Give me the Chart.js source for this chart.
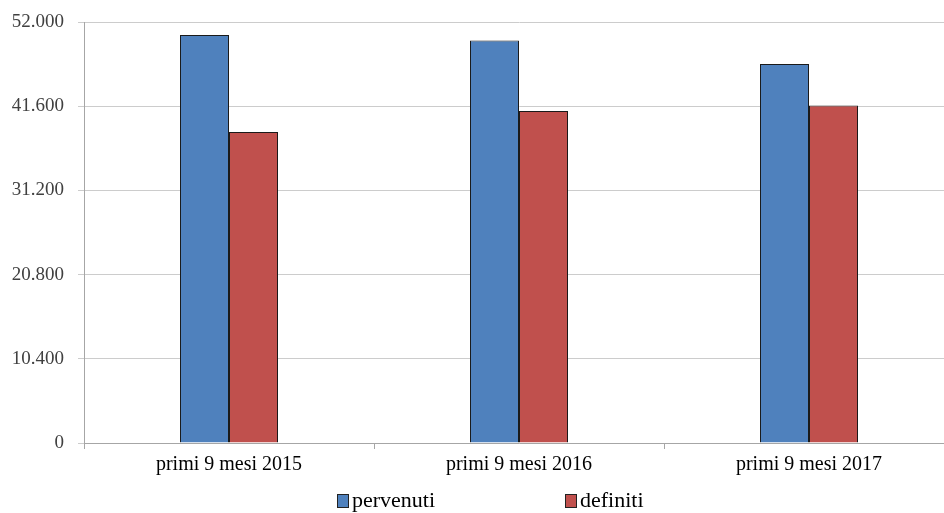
<!DOCTYPE html>
<html>
<head>
<meta charset="utf-8">
<script src="https://cdn.jsdelivr.net/npm/chart.js@4/dist/chart.umd.min.js"></script>
<style>
html,body{margin:0;padding:0;background:#fff;overflow:hidden;}
#wrap{position:relative;width:944px;height:513px;overflow:hidden;}
canvas{display:block;}
</style>
</head>
<body>
<div id="wrap"><canvas id="c" width="954" height="513" style="width:954px;height:513px"></canvas></div>
<script>
const categories = ['primi 9 mesi 2015', 'primi 9 mesi 2016', 'primi 9 mesi 2017'];
const seriesNames = ['pervenuti', 'definiti'];
const pervenuti = [50400, 49700, 46800];
const definiti = [38400, 41000, 41700];
const yMin = 0, yMax = 52000, yStep = 10400;

function fmt(v){
  return String(Math.round(v)).replace(/\B(?=(\d{3})+(?!\d))/g, '.');
}

const FONT = '"Liberation Serif", "DejaVu Serif", serif';

const customLegend = {
  id: 'customLegend',
  afterDraw(chart){
    const ctx = chart.ctx;
    const xs = [337, 565];
    const yc = 501;
    ctx.save();
    ctx.font = 'normal normal 22px "Liberation Serif", serif';
    ctx.textBaseline = 'middle';
    ctx.textAlign = 'left';
    chart.data.datasets.forEach((ds, i) => {
      const x = xs[i];
      ctx.fillStyle = ds.backgroundColor;
      ctx.fillRect(x + 0.5, yc - 7 + 0.5, 11, 13);
      ctx.strokeStyle = '#222';
      ctx.lineWidth = 1;
      ctx.strokeRect(x + 0.5, yc - 7 + 0.5, 11, 13);
      ctx.fillStyle = '#000';
      ctx.fillText(ds.label, x + 15, yc);
    });
    ctx.restore();
  }
};

new Chart(document.getElementById('c'), {
  type: 'bar',
  data: {
    labels: categories,
    datasets: [
      { label: seriesNames[0], data: pervenuti, backgroundColor: '#4F81BD', borderColor: '#1a1a1a', borderWidth: 1 },
      { label: seriesNames[1], data: definiti, backgroundColor: '#C0504D', borderColor: '#1a1a1a', borderWidth: 1 }
    ]
  },
  options: {
    responsive: false,
    animation: false,
    layout: { padding: { top: 22, right: 0, bottom: 30, left: 0 } },
    plugins: { legend: { display: false }, tooltip: { enabled: false } },
    datasets: { bar: { barPercentage: 1, categoryPercentage: 0.338 } },
    scales: {
      x: {
        offset: true,
        grid: { display: true, drawOnChartArea: false, drawTicks: true, tickLength: 6, color: '#a6a6a6', offset: true },
        border: { display: true, color: '#a6a6a6', width: 1 },
        ticks: { color: '#000', font: { family: FONT, size: 20 }, padding: 4, maxRotation: 0 },
        afterFit(s){ s.height = 40; s.paddingLeft = 0; s.paddingRight = 0; }
      },
      y: {
        min: yMin, max: yMax,
        grid: { color: '#cccccc', tickLength: 6, drawTicks: true },
        border: { display: true, color: '#a6a6a6', width: 1 },
        ticks: { stepSize: yStep, color: '#404040', font: { family: FONT, size: 19 }, padding: 14, callback: v => fmt(v) },
        afterFit(s){ s.width = 84; s.paddingTop = 0; s.paddingBottom = 0; }
      }
    }
  },
  plugins: [customLegend]
});
</script>
</body>
</html>
